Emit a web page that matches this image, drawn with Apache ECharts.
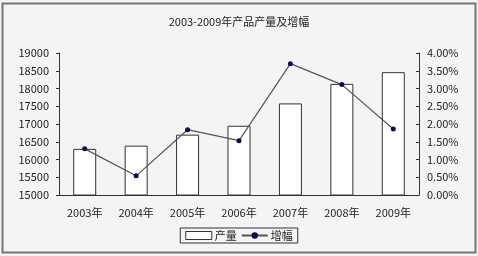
<!DOCTYPE html>
<html><head><meta charset="utf-8">
<script src="https://cdn.jsdelivr.net/npm/echarts@6/dist/echarts.min.js"></script>
<style>html,body{margin:0;padding:0;background:#f4f4f4}#c{width:478px;height:256px}</style>
</head><body><div id="c"></div>
<script>
const title = '2003-2009年产品产量及增幅';
const categories = ['2003年','2004年','2005年','2006年','2007年','2008年','2009年'];
const output = [16300, 16390, 16700, 16950, 17580, 18130, 18460];
const growth = [1.30, 0.54, 1.84, 1.53, 3.70, 3.11, 1.86];
const leftTicks = [15000, 19000, 500];
const rightTicks = [0, 4, 0.5];
const font = '"Noto Sans CJK SC", "DejaVu Sans", sans-serif';
const chart = echarts.init(document.getElementById('c'));
chart.setOption({
  backgroundColor: '#f4f4f4',
  animation: false,
  textStyle: {fontFamily: font},
  title: {text: title, left: 'center', top: 11, textStyle: {fontSize: 11, fontWeight: 'normal', color: '#222', fontFamily: font}},
  graphic: [{type: 'rect', shape: {x: 2.5, y: 3.5, width: 473, height: 249}, style: {fill: 'none', stroke: '#777', lineWidth: 2}, silent: true}],
  legend: {
    bottom: 13, left: 'center', itemGap: 4, itemWidth: 26, itemHeight: 8,
    padding: [2, 5], borderColor: '#333', borderWidth: 1,
    textStyle: {fontSize: 11, color: '#222', fontFamily: font, padding: [0, 0, 0, -2]},
    data: [{name: '产量', icon: 'rect', itemStyle: {color: '#fff', borderColor: '#333', borderWidth: 1}},
           {name: '增幅'}]
  },
  grid: {left: 59, right: 59, top: 53, bottom: 61},
  xAxis: {
    type: 'category', data: categories,
    axisLine: {lineStyle: {color: '#333'}},
    axisTick: {inside: true, length: 3, lineStyle: {color: '#333'}},
    axisLabel: {fontSize: 11, color: '#222', margin: 12, fontFamily: font}
  },
  yAxis: [{
    type: 'value', min: leftTicks[0], max: leftTicks[1], interval: leftTicks[2],
    axisLine: {show: true, lineStyle: {color: '#333'}},
    axisTick: {show: true, length: 3, lineStyle: {color: '#333'}},
    splitLine: {show: false},
    axisLabel: {fontSize: 11, color: '#222', margin: 10, fontFamily: font, formatter: v => String(v)}
  }, {
    type: 'value', min: rightTicks[0], max: rightTicks[1], interval: rightTicks[2],
    axisLine: {show: true, lineStyle: {color: '#333'}},
    axisTick: {show: true, inside: true, length: 3, lineStyle: {color: '#333'}},
    splitLine: {show: false},
    axisLabel: {fontSize: 11, color: '#222', margin: 8, fontFamily: font, formatter: v => v.toFixed(2) + '%'}
  }],
  series: [{
    name: '产量', type: 'bar', data: output, barWidth: 23,
    itemStyle: {color: '#fff', borderColor: '#333', borderWidth: 1}
  }, {
    name: '增幅', type: 'line', yAxisIndex: 1, data: growth,
    symbol: 'circle', symbolSize: 5,
    lineStyle: {color: '#555', width: 1.2},
    itemStyle: {color: '#0a0a50'}
  }]
});
</script></body></html>
